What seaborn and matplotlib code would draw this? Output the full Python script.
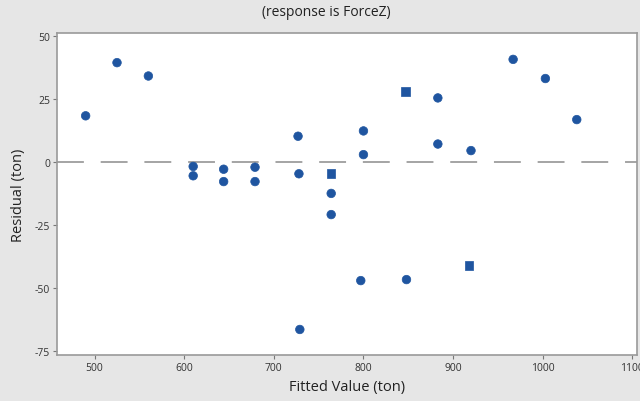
import matplotlib
matplotlib.use("Agg")
import matplotlib.pyplot as plt
import seaborn as sns
import pandas as pd

fitted = [490, 525, 560, 610, 610, 644, 644, 679, 679, 727, 728, 764, 764, 764,
          800, 800, 797, 729, 847, 848, 883, 883, 920, 918, 967, 1003, 1038]
residual = [18.5, 39.6, 34.3, -1.6, -5.3, -2.7, -7.6, -1.9, -7.6, 10.4, -4.5, -4.3, -12.3, -20.7,
            12.5, 3.1, -46.9, -66.3, 28.2, -46.5, 25.6, 7.3, 4.7, -41, 40.9, 33.3, 17]
shape = ["o", "o", "o", "o", "o", "o", "o", "o", "o", "o", "o", "s", "o", "o",
         "o", "o", "o", "o", "s", "o", "o", "o", "o", "s", "o", "o", "o"]

xticks = [500, 600, 700, 800, 900, 1000, 1100]
yticks = [-75, -50, -25, 0, 25, 50]

df = pd.DataFrame({"fitted": fitted, "residual": residual, "shape": shape})

sns.set_theme(style="white")
plt.rcParams["font.family"] = ["Open Sans", "DejaVu Sans"]

fig = plt.figure(figsize=(6.4, 4.02), dpi=100, facecolor="#e6e6e6")
ax = fig.add_axes([0.089, 0.114, 0.906, 0.801])
ax.set_facecolor("white")

ax.axhline(0, color="#8c8c8c", lw=1.1, ls=(0, (17.6, 11)), zorder=1)

sns.scatterplot(data=df, x="fitted", y="residual", style="shape",
                markers={"o": "o", "s": "s"}, color="#1f55a0", s=38,
                edgecolor="#1f55a0", linewidth=0.5, legend=False, ax=ax, zorder=3)

ax.set_xlim(458, 1105)
ax.set_ylim(-76.5, 51.3)
ax.set_xticks(xticks)
ax.set_xticklabels([str(t) for t in xticks])
ax.set_yticks(yticks)
ax.set_yticklabels([str(t) for t in yticks])
ax.tick_params(axis="both", direction="out", length=3, width=0.8, color="#777777",
               labelsize=7.5, labelcolor="#333333", pad=2, bottom=True, left=True)

for sp in ax.spines.values():
    sp.set_color("#9a9a9a")
    sp.set_linewidth(1.2)

ax.set_xlabel("Fitted Value (ton)", fontsize=10.5, color="#222222", labelpad=4)
ax.set_ylabel("Residual (ton)", fontsize=10.5, color="#222222", labelpad=6)
fig.text(0.51, 0.97, "(response is ForceZ)", ha="center", va="center",
         fontsize=10, color="#222222")

fig.savefig("out.png", dpi=100, facecolor=fig.get_facecolor())
